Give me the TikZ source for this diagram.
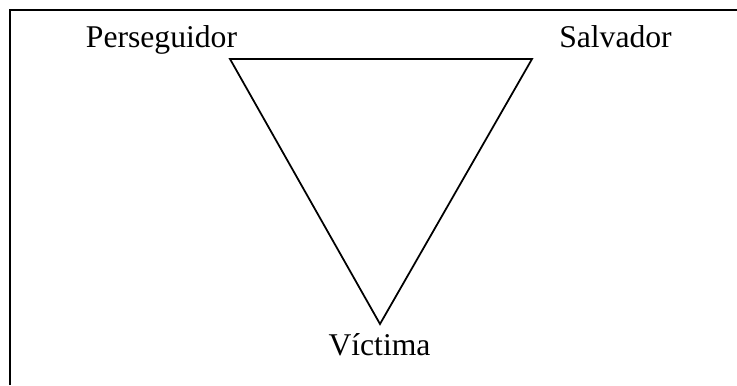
\documentclass[tikz,border=0pt]{standalone}
\usepackage{fontspec}
\setmainfont{Liberation Serif}
\usetikzlibrary{positioning}

\begin{document}
\begin{tikzpicture}[x=0.01cm,y=-0.01cm]
  \tikzset{rolelabel/.style={anchor=base,inner sep=0pt,font=\fontsize{9}{11}\selectfont}}
  \useasboundingbox (0,0) rectangle (737,385);
  % marco
  \draw[line width=0.85pt] (10,385)--(10,10)--(737,10);
  % vertices del triangulo
  \coordinate (pers) at (230,59);\coordinate (salv) at (532,59);\coordinate (vict) at (380,324);
  \draw[line width=0.5pt,line join=miter] (pers)--(salv)--(vict)--cycle;
  \node[rolelabel] (perslbl) at (161.5,48){Perseguidor};
  \node[rolelabel] (salvlbl) at (615.5,48){Salvador};
  \node[rolelabel] (victlbl) at (379.5,355){Víctima};
\end{tikzpicture}
\end{document}
